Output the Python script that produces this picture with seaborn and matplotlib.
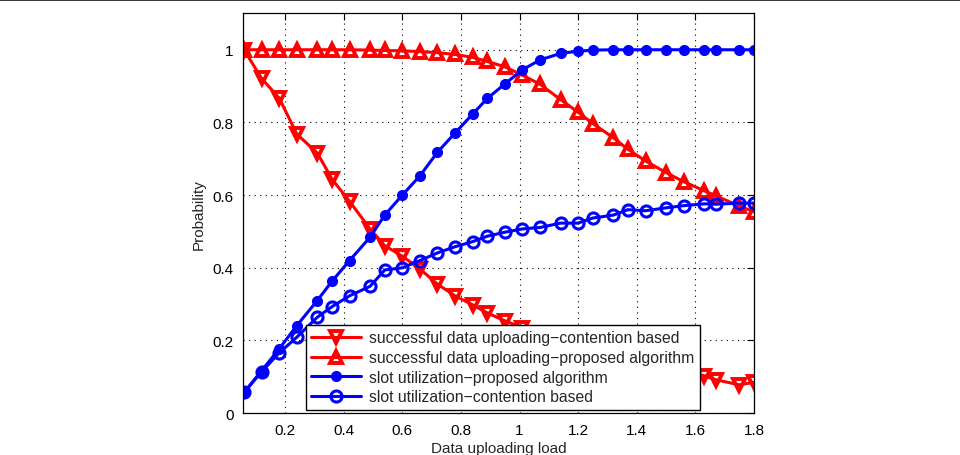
import matplotlib
matplotlib.use("Agg")
import matplotlib.pyplot as plt
import seaborn as sns
from matplotlib.lines import Line2D

# koormus (x) ja neli seeriat, loetud pildilt
load = [0.06, 0.12, 0.18, 0.24, 0.31, 0.36, 0.42, 0.49, 0.54, 0.60,
        0.66, 0.72, 0.78, 0.84, 0.89, 0.95, 1.01, 1.07, 1.14, 1.20,
        1.25, 1.32, 1.37, 1.43, 1.50, 1.56, 1.63, 1.67, 1.75, 1.80]

success_contention = [1.0, 0.921, 0.867, 0.768, 0.716, 0.644, 0.583, 0.507, 0.461, 0.432,
                      0.397, 0.355, 0.323, 0.298, 0.276, 0.254, 0.235, 0.215, 0.197, 0.181,
                      0.168, 0.154, 0.143, 0.133, 0.123, 0.113, 0.103, 0.092, 0.078, 0.085]

success_proposed = [1.0, 1.0, 1.0, 1.0, 1.0, 1.0, 1.0, 0.999, 0.998, 0.997,
                    0.995, 0.992, 0.987, 0.979, 0.968, 0.953, 0.930, 0.905, 0.863, 0.828,
                    0.797, 0.758, 0.726, 0.694, 0.662, 0.637, 0.612, 0.598, 0.570, 0.554]

slot_proposed = [0.057, 0.117, 0.177, 0.241, 0.310, 0.363, 0.420, 0.484, 0.545, 0.600,
                 0.653, 0.718, 0.771, 0.823, 0.866, 0.906, 0.945, 0.972, 0.990, 0.996,
                 0.999, 1.0, 1.0, 1.0, 1.0, 1.0, 1.0, 1.0, 1.0, 1.0]

slot_contention = [0.057, 0.114, 0.166, 0.209, 0.264, 0.293, 0.323, 0.349, 0.394, 0.400,
                   0.420, 0.441, 0.458, 0.472, 0.487, 0.498, 0.507, 0.511, 0.523, 0.523,
                   0.537, 0.545, 0.560, 0.557, 0.565, 0.571, 0.576, 0.575, 0.578, 0.578]

labels = ["successful data uploading\u2212contention based",
          "successful data uploading\u2212proposed algorithm",
          "slot utilization\u2212proposed algorithm",
          "slot utilization\u2212contention based"]

x_ticks = [0.2, 0.4, 0.6, 0.8, 1.0, 1.2, 1.4, 1.6, 1.8]
x_ticklabels = ["0.2", "0.4", "0.6", "0.8", "1", "1.2", "1.4", "1.6", "1.8"]
y_ticks = [0, 0.2, 0.4, 0.6, 0.8, 1.0]
y_ticklabels = ["0", "0.2", "0.4", "0.6", "0.8", "1"]

sns.set_style("white")
plt.rcParams["font.family"] = ["Liberation Sans", "DejaVu Sans"]
plt.rcParams["font.size"] = 11

fig = plt.figure(figsize=(9.6, 4.56), dpi=100)
ax = fig.add_axes([0.2536, 0.0917, 0.5318, 0.8767])

sns.lineplot(x=load, y=success_contention, ax=ax, color="red", lw=2.2, marker="v",
             markersize=9, mfc="none", mec="red", mew=2.8, label=labels[0])
sns.lineplot(x=load, y=success_proposed, ax=ax, color="red", lw=2.2, marker="^",
             markersize=9, mfc="none", mec="red", mew=2.8, label=labels[1])
sns.lineplot(x=load, y=slot_proposed, ax=ax, color="blue", lw=2.2, marker="o",
             markersize=7, mfc="blue", mec="blue", mew=1, label=labels[2])
sns.lineplot(x=load, y=slot_contention, ax=ax, color="blue", lw=2.2, marker="o",
             markersize=8, mfc="none", mec="blue", mew=2.2, label=labels[3])

ax.set_xlim(0.058, 1.8)
ax.set_ylim(0, 1.1)
ax.set_xticks(x_ticks)
ax.set_xticklabels(x_ticklabels)
ax.set_yticks(y_ticks)
ax.set_yticklabels(y_ticklabels)
ax.grid(True, ls=(0, (1, 4)), color="black", lw=0.8)
ax.tick_params(direction="in", top=True, right=True, length=5, width=0.8,
               labelsize=11, colors="black", pad=7)
for s in ax.spines.values():
    s.set_color("black")
    s.set_linewidth(0.9)
ax.set_xlabel("Data uploading load", fontsize=11, labelpad=3)
ax.set_ylabel("Probability", fontsize=11, labelpad=5)

leg = ax.legend(loc="lower left", bbox_to_anchor=(0.122, 0.008), borderaxespad=0,
                fancybox=False, framealpha=1, edgecolor="black", fontsize=11.3,
                handlelength=3.2, handletextpad=0.5, labelspacing=0.3, borderpad=0.35)
leg.get_frame().set_linewidth(1)

fig.add_artist(Line2D([0, 1], [0.999, 0.999], color="#222222", lw=2, transform=fig.transFigure))

plt.savefig("out.png", dpi=100)
